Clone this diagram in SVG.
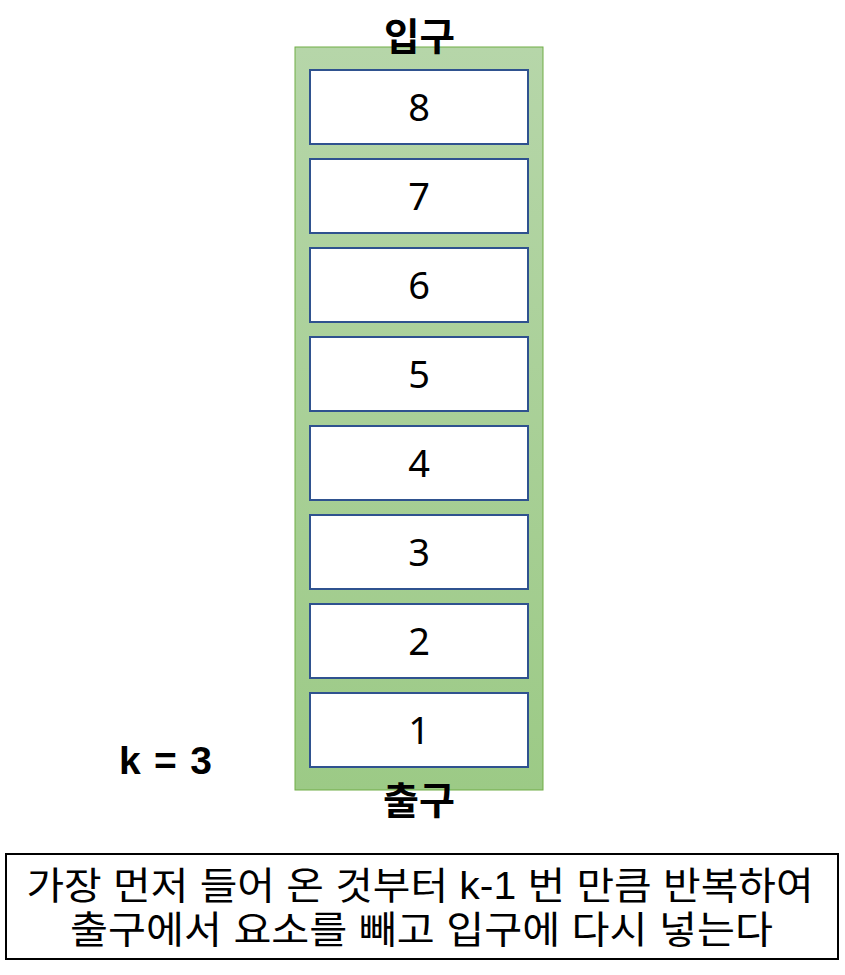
<svg xmlns="http://www.w3.org/2000/svg" width="845" height="975" viewBox="0 0 845 975">
<style>
.cell{fill:#fff;stroke:#2f528f;stroke-width:2}
.num{font-family:"Noto Sans","Noto Sans CJK KR",sans-serif;font-size:38px;text-anchor:middle;fill:#000}
.lbl{font-family:"Liberation Sans","Noto Sans CJK KR",sans-serif;font-size:38px;font-weight:bold;text-anchor:middle;fill:#000}
.desc{font-family:"Liberation Sans","Noto Sans CJK KR",sans-serif;font-size:38px;text-anchor:middle;fill:#000}
</style>
<defs>
<linearGradient id="g" x1="0" y1="0" x2="0" y2="1">
<stop offset="0" stop-color="#b6d6a9"/>
<stop offset="1" stop-color="#9cca86"/>
</linearGradient>
</defs>
<g id="stack">
<rect x="295" y="47" width="248" height="743" fill="url(#g)" stroke="#70ad47" stroke-width="1"/>
</g>
<g id="cell8"><rect class="cell" x="310" y="70" width="218" height="74"/><text class="num" x="419" y="121">8</text></g>
<g id="cell7"><rect class="cell" x="310" y="159" width="218" height="74"/><text class="num" x="419" y="210">7</text></g>
<g id="cell6"><rect class="cell" x="310" y="248" width="218" height="74"/><text class="num" x="419" y="299">6</text></g>
<g id="cell5"><rect class="cell" x="310" y="337" width="218" height="74"/><text class="num" x="419" y="388">5</text></g>
<g id="cell4"><rect class="cell" x="310" y="426" width="218" height="74"/><text class="num" x="419" y="477">4</text></g>
<g id="cell3"><rect class="cell" x="310" y="515" width="218" height="74"/><text class="num" x="419" y="566">3</text></g>
<g id="cell2"><rect class="cell" x="310" y="604" width="218" height="74"/><text class="num" x="419" y="655">2</text></g>
<g id="cell1"><rect class="cell" x="310" y="693" width="218" height="74"/><text class="num" x="419" y="744">1</text></g>
<g id="in-label"><text class="lbl" x="419.5" y="50" textLength="71" lengthAdjust="spacingAndGlyphs">입구</text></g>
<g id="out-label"><text class="lbl" x="419" y="814" textLength="72" lengthAdjust="spacingAndGlyphs">출구</text></g>
<g id="k-label"><text font-family="Liberation Sans,sans-serif" font-size="39" font-weight="bold" x="119" y="774" textLength="93" lengthAdjust="spacing" xml:space="preserve">k = 3</text></g>
<g id="desc">
<rect x="6" y="854" width="832" height="105" fill="#fff" stroke="#000" stroke-width="2"/>
<text class="desc" x="420" y="899" textLength="787" lengthAdjust="spacingAndGlyphs">가장 먼저 들어 온 것부터 k-1 번 만큼 반복하여</text>
<text class="desc" x="421.5" y="943" textLength="703" lengthAdjust="spacingAndGlyphs">출구에서 요소를 빼고 입구에 다시 넣는다</text>
</g>
<g id="connectors"></g>
</svg>
